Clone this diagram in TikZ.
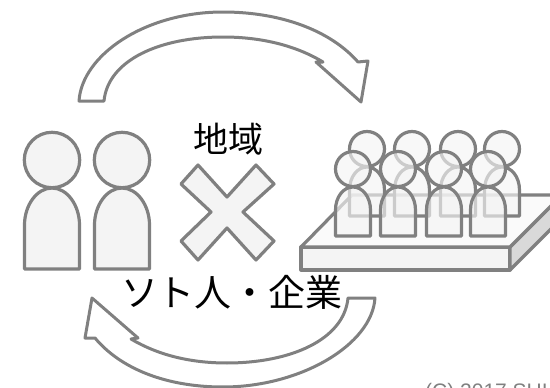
\documentclass[tikz,border=0pt]{standalone}
\usepackage{fontspec}
\setmainfont{Liberation Sans}
\newfontfamily\cjk{Noto Sans CJK JP}
\definecolor{edgegray}{HTML}{808080}
\definecolor{bodygray}{HTML}{F4F4F4}
\tikzset{
  x=1pt,y=-1pt,
  outline/.style={draw=edgegray,line width=3.2pt,fill=bodygray,line join=round},
  seethrough/.style={outline,fill opacity=0.65},
  arrowband/.style={draw=edgegray,line width=3pt,fill=white,line join=round},
  label/.style={font=\cjk\fontsize{37}{37}\selectfont,text=black,inner sep=0pt},
  person/.pic={
    \path[seethrough] (-17.5,0) -- (-17.5,-26) .. controls (-17.5,-39) and (-9.6,-49) .. (0,-49)
      .. controls (9.6,-49) and (17.5,-39) .. (17.5,-26) -- (17.5,0) -- cycle;
    \path[seethrough] (0,-67) circle (17.5);
  },
  bigperson/.pic={
    \path[outline] (-27.5,0) -- (-27.5,-44) .. controls (-27.5,-64) and (-15,-81) .. (0,-81)
      .. controls (15,-81) and (27.5,-64) .. (27.5,-44) -- (27.5,0) -- cycle;
    \path[outline] (0,-109) circle (27.7);
  },
}
\begin{document}
\begin{tikzpicture}
  \useasboundingbox (0,0) rectangle (550,388);
  \clip (0,0) rectangle (550,388);

  % upper curved arrow
  \path[arrowband] (79,101) .. controls (82,55) and (145,12) .. (223,12)
    .. controls (280,12) and (330,30) .. (358,62) -- (368,61) -- (361,102) -- (316,62) -- (323,62)
    .. controls (295,45) and (260,37) .. (223,37)
    .. controls (160,37) and (108,60) .. (104,101) -- cycle;

  % lower curved arrow
  \path[arrowband] (375,298) .. controls (372,345) and (300,387) .. (223,387)
    .. controls (165,387) and (120,368) .. (95,338) -- (85,338) -- (92,298) -- (138,338) -- (131,339)
    .. controls (158,355) and (190,363) .. (227,363)
    .. controls (290,363) and (344,340) .. (348,298) -- cycle;

  % two people on the left
  \pic at (52,269) {bigperson};
  \pic at (122,269) {bigperson};

  % multiplication sign
  \path[outline] (198,165) -- (227,197) -- (256,165) -- (274,184) -- (243,212)
    -- (274,241) -- (256,260) -- (227,228) -- (198,260) -- (181,241) -- (211,212) -- (181,184) -- cycle;

  % platform
  \path[outline] (301,247) -- (510,247) -- (510,270) -- (301,270) -- cycle;
  \path[draw=edgegray,line width=3.2pt,fill=black!15,line join=round] (510,247) -- (552,205) -- (552,228) -- (510,270) -- cycle;
  \path[draw=edgegray,line width=3.2pt,fill=black!2,line join=round] (301,247) -- (352,195) -- (562,195) -- (510,247) -- cycle;

  % back row
  \pic at (367,216) {person};
  \pic at (412,216) {person};
  \pic at (458,216) {person};
  \pic at (502,216) {person};

  % front row
  \pic at (353,236) {person};
  \pic at (398,236) {person};
  \pic at (444,236) {person};
  \pic at (488,236) {person};

  % labels
  \node[label,font=\cjk\fontsize{35}{35}\selectfont] (region) at (228,139) {地域};
  \node[label] (outsider) at (232,292.5) {ソト人・企業};
  \node[font=\fontsize{21}{21}\selectfont,text=edgegray,anchor=base west,inner sep=0pt] (credit) at (425,398) {(C) 2017 SHI};
\end{tikzpicture}
\end{document}
